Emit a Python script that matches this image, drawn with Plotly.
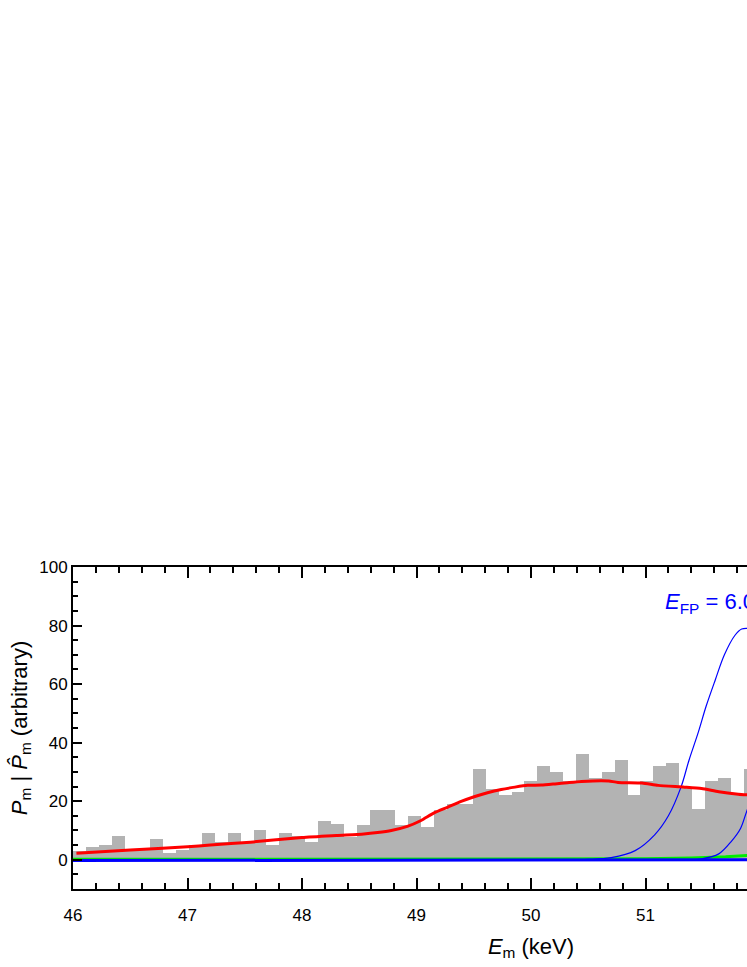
import plotly.graph_objects as go

# ---- data ----
bin_start = 46.0
bin_width = 0.11264
hist_counts = [3.1, 4.2, 5.1, 8.1, 3.4, 3.7, 7.1, 2.2, 3.3, 5.1,
               9.1, 6.1, 9.0, 6.0, 10.1, 5.2, 9.0, 8.0, 6.1, 13.2,
               12.1, 7.8, 12.0, 17.1, 17.1, 12.0, 15.0, 11.1, 17.1, 19.1,
               19.1, 31.0, 24.0, 22.1, 23.1, 27.0, 32.1, 30.1, 27.0, 36.2,
               28.0, 30.1, 34.1, 22.1, 27.0, 32.0, 33.0, 25.0, 17.2, 27.0,
               28.0, 22.0, 31.0]

fit_x = [46.03, 46.5, 47.0, 47.2, 47.55, 48.0, 48.3, 48.54, 48.66, 48.78,
         48.92, 49.04, 49.15, 49.27, 49.39, 49.51, 49.62, 49.74, 49.86, 49.97,
         50.09, 50.21, 50.32, 50.44, 50.61, 50.68, 50.76, 50.97, 51.11, 51.34,
         51.49, 51.64, 51.81, 51.95]
fit_y = [2.2, 3.3, 4.4, 5.0, 6.0, 7.6, 8.3, 8.8, 9.3, 10.0,
         11.4, 13.4, 15.9, 17.9, 19.9, 21.6, 22.9, 24.0, 24.8, 25.4,
         25.5, 25.9, 26.3, 26.7, 27.0, 26.9, 26.4, 26.2, 25.4, 24.8,
         24.3, 23.2, 22.4, 22.0]

peak1_x = [50.3, 50.5, 50.7, 50.91, 51.08, 51.2, 51.31, 51.38, 51.46, 51.53,
           51.61, 51.69, 51.78, 51.84, 51.90, 51.96]
peak1_y = [0.0, 0.1, 0.7, 3.1, 8.5, 15.0, 24.8, 34.0, 43.4, 52.5,
           61.5, 70.1, 76.6, 78.8, 79.0, 78.6]

peak2_x = [51.3, 51.49, 51.64, 51.75, 51.83, 51.88, 51.95]
peak2_y = [0.0, 0.3, 2.0, 6.3, 10.7, 16.1, 23.5]

green_x = [46.0, 50.5, 51.0, 51.4, 51.7, 51.95]
green_y = [0.15, 0.2, 0.3, 0.6, 1.0, 1.6]

base_x = [46.0, 51.95]
base_y = [-0.3, 0.0]

bin_left = [bin_start + i * bin_width for i in range(len(hist_counts))]

FONT = "Liberation Sans, Arial, sans-serif"

fig = go.Figure()
fig.add_trace(go.Bar(x=bin_left, y=hist_counts, width=bin_width, offset=0,
                     marker=dict(color="#b3b3b3", line=dict(width=0)),
                     showlegend=False))
fig.add_trace(go.Scatter(x=green_x, y=green_y, mode="lines",
                         line=dict(color="#00ee00", width=3), showlegend=False))
fig.add_trace(go.Scatter(x=base_x, y=base_y, mode="lines",
                         line=dict(color="#0000ff", width=3), showlegend=False))
fig.add_trace(go.Scatter(x=peak1_x, y=peak1_y, mode="lines",
                         line=dict(color="#0000ff", width=1.2, shape="spline"),
                         showlegend=False))
fig.add_trace(go.Scatter(x=peak2_x, y=peak2_y, mode="lines",
                         line=dict(color="#0000ff", width=1.2, shape="spline"),
                         showlegend=False))
fig.add_trace(go.Scatter(x=fit_x, y=fit_y, mode="lines",
                         line=dict(color="#ff0000", width=3, shape="spline", smoothing=0.6),
                         showlegend=False))

fig.add_annotation(x=51.15, y=87.8, xref="x", yref="y", xanchor="left", yanchor="middle",
                   text="<i>E</i><sub>FP</sub> = 6.0 keV", showarrow=False,
                   font=dict(family=FONT, size=22, color="#0000ff"))

fig.update_layout(
    width=1010, height=967,
    margin=dict(l=73, r=21, t=567, b=74),
    paper_bgcolor="white", plot_bgcolor="white",
    bargap=0,
    font=dict(family=FONT, size=17, color="black"),
)
fig.update_xaxes(
    range=[46, 54], tick0=46, dtick=1, ticks="inside", ticklen=11, tickwidth=1.5,
    tickcolor="black", showline=True, linecolor="black", linewidth=2, mirror="ticks",
    showgrid=False, zeroline=False, ticklabelstandoff=10,
    minor=dict(dtick=0.2, ticks="inside", ticklen=6, tickwidth=1.5, tickcolor="black", showgrid=False),
    tickfont=dict(family=FONT, size=17),
    title=dict(text="<i>E</i><sub>m</sub> (keV)", font=dict(family=FONT, size=22), standoff=14),
)
fig.update_yaxes(
    range=[-10, 100], tick0=0, dtick=20, ticks="inside", ticklen=9, tickwidth=1.5,
    tickcolor="black", showline=True, linecolor="black", linewidth=2, mirror="ticks",
    showgrid=False, zeroline=False,
    minor=dict(dtick=5, ticks="inside", ticklen=5, tickwidth=1.5, tickcolor="black", showgrid=False),
    tickfont=dict(family=FONT, size=17),
    title=dict(text="<i>P</i><sub>m</sub> | <i>P\u0302</i><sub>m</sub> (arbitrary)",
               font=dict(family=FONT, size=22), standoff=6),
)

fig.write_html("out.html",
               post_script="document.body.style.margin='0';document.body.style.overflow='hidden';")
